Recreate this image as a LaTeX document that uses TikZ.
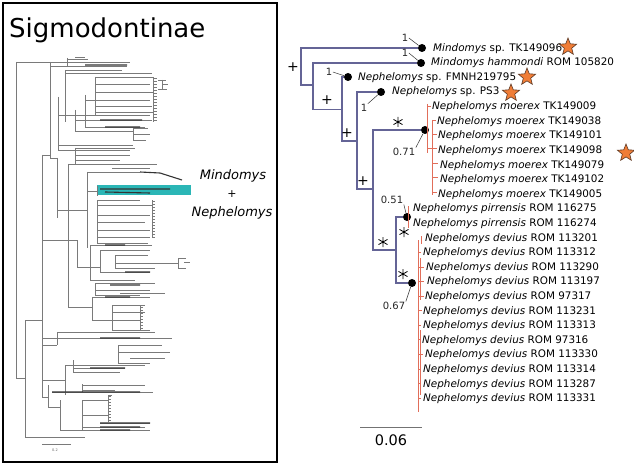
\documentclass[tikz,border=0pt]{standalone}
\usepackage{fontspec}
\setmainfont{DejaVu Sans}
\usetikzlibrary{shapes.geometric}
\definecolor{treeblue}{RGB}{100,100,150}
\definecolor{tipred}{RGB}{225,110,90}
\definecolor{starorange}{RGB}{240,125,55}
\definecolor{stardark}{RGB}{90,55,35}
\definecolor{tealhl}{RGB}{43,182,182}
\tikzset{
  lt/.style={draw=black!52, line width=0.4pt},
  ltd/.style={draw=black!80, line width=1.1pt},
  tb/.style={draw=treeblue, line width=1.1pt},
  tipline/.style={draw=tipred, line width=0.8pt},
  dot/.style={circle, fill=black, inner sep=0pt, minimum size=8pt},
  lab/.style={anchor=base west, inner sep=0pt, font=\fontsize{10.4}{12}\selectfont},
  supp/.style={inner sep=0.5pt, font=\fontsize{10}{12}\selectfont, text=black!85},
  leader/.style={draw=black!80, line width=0.5pt},
  plussign/.style={inner sep=0pt, font=\fontsize{14}{14}\selectfont},
  starmark/.style={star, star points=5, star point ratio=2.3, minimum size=18pt, inner sep=0pt, fill=starorange, draw=stardark, line width=0.6pt},
  astpic/.pic={\draw[line width=0.8pt] (0,-5)--(0,5) (-4.5,-2.6)--(4.5,2.6) (-4.5,2.6)--(4.5,-2.6);}
}
\begin{document}
\begin{tikzpicture}[x=1pt,y=-1pt]
\useasboundingbox (0,0) rectangle (634,465);
\fill[white] (0,0) rectangle (634,465);

% ---------------- left panel ----------------
\draw[line width=2pt] (3,3) rectangle (277,462);
\node[anchor=base west, inner sep=0pt, font=\fontsize{26}{26}\selectfont] (title) at (9,38) {Sigmodontinae};

\fill[tealhl] (97,185) rectangle (191,195);

% big tree (thumbnail)
\draw[lt]
 (16,62)--(16,378) (50,62)--(50,158) (67,58)--(67,66) (42,155)--(42,397)
 (25,320)--(25,437) (57,158)--(57,218) (65,70)--(65,122) (58,97)--(58,150)
 (68,164)--(68,307) (75,148)--(75,165) (87,172)--(87,248) (97,186)--(97,196)
 (97,200)--(97,243) (95,77)--(95,115) (85,95)--(85,127) (75,110)--(75,132)
 (133,128)--(133,140) (90,245)--(90,280) (77,240)--(77,267) (100,250)--(100,272)
 (115,255)--(115,268) (95,283)--(95,295) (92,297)--(92,320) (112,305)--(112,330)
 (57,332)--(57,345) (48,385)--(48,407) (65,365)--(65,395) (73,360)--(73,372)
 (82,384)--(82,392) (60,400)--(60,430) (82,400)--(82,430) (118,345)--(118,363)
 (108,395)--(108,422) (153,77)--(153,122) (152,200)--(152,238) (140,305)--(140,330)
 (16,62)--(130,62) (67,59)--(88,59) (75,57)--(85,57) (50,66)--(127,66)
 (65,70)--(122,70) (65,73)--(152,73) (95,77)--(153,77) (95,84)--(150,84)
 (95,92)--(153,92) (85,100)--(150,100) (95,106)--(152,106) (95,112)--(153,112)
 (58,115)--(150,115) (75,120)--(152,120) (85,127)--(145,127) (75,131)--(133,131)
 (133,128)--(148,128) (133,134)--(150,134) (133,140)--(146,140) (58,145)--(133,145)
 (75,148)--(135,148) (58,150)--(130,150) (75,155)--(130,155) (42,155)--(50,155)
 (50,158)--(57,158) (75,160)--(120,160) (68,164)--(157,164) (112,168)--(150,168)
 (87,172)--(140,172) (87,191)--(97,191) (97,200)--(140,200) (97,205)--(152,205)
 (57,210)--(87,210) (97,215)--(150,215) (97,222)--(145,222) (97,230)--(150,230)
 (97,237)--(150,237) (97,243)--(148,243) (42,240)--(77,240) (90,245)--(152,245)
 (100,250)--(150,250) (115,255)--(148,255) (115,263)--(178,263) (115,268)--(155,268)
 (100,272)--(150,272) (77,267)--(100,267) (90,280)--(135,280) (95,283)--(155,283)
 (95,290)--(150,290) (95,295)--(140,295) (120,293)--(165,293) (92,297)--(150,297)
 (68,307)--(92,307) (112,305)--(140,305) (112,312)--(145,312) (92,320)--(140,320)
 (112,330)--(150,330) (57,332)--(155,332) (42,338)--(172,338) (118,345)--(162,345)
 (118,352)--(170,352) (130,358)--(165,358) (118,363)--(150,363) (42,345)--(57,345)
 (65,365)--(145,365) (73,368)--(125,368) (73,372)--(120,372) (42,380)--(65,380)
 (82,385)--(145,385) (82,390)--(115,390) (52,392)--(153,392) (82,400)--(108,400)
 (48,407)--(60,407) (82,415)--(108,415) (100,423)--(150,423) (83,427)--(145,427)
 (60,430)--(150,430) (25,437)--(85,437) (16,378)--(25,378) (25,320)--(42,320)
 (42,397)--(48,397)
 (158,80)--(166,80) (162,80)--(162,89) (158,89)--(167,89) (163,84)--(168,84)
 (178,258)--(178,268) (178,258)--(186,258) (178,268)--(186,268) (184,262)--(190,262)
 (108,395)--(112,395) (140,305)--(145,305);
\foreach \yy in {78,81,...,121} \draw[lt] (153,\yy)--(157,\yy);
\foreach \yy in {201,204,...,237} \draw[lt] (152,\yy)--(155,\yy);
\foreach \yy in {307,310,...,329} \draw[lt] (140,\yy)--(143,\yy);
\foreach \yy in {396,399,...,421} \draw[lt] (108,\yy)--(111,\yy);
\draw[ltd] (85,65)--(127,65) (100,120)--(142,120) (105,127)--(140,127)
 (140,172)--(160,173)--(182,180) (100,189)--(170,189) (105,192)--(150,193)
 (105,245)--(125,245) (125,272)--(150,272) (100,338)--(140,338) (90,368)--(125,368)
 (52,392)--(140,392) (100,423)--(150,423) (100,427)--(140,427) (110,285)--(140,285)
 (100,430)--(130,430) (105,297)--(130,297);
% left scale bar
\draw[lt, line width=0.6pt] (42,444)--(71,444);
\node[inner sep=0pt, font=\fontsize{3.5}{4}\selectfont, text=black!60] (lscale) at (55,450) {0.2};

\node[inner sep=0pt, anchor=base, font=\fontsize{13}{15}\selectfont\itshape] (lmin) at (233,179) {Mindomys};
\node[inner sep=0pt, font=\fontsize{11}{12}\selectfont] (lplus) at (232,194) {+};
\node[inner sep=0pt, anchor=base, font=\fontsize{13}{15}\selectfont\itshape] (lneph) at (232,216) {Nephelomys};

% ---------------- right panel ----------------
\coordinate (r) at (301,66.5);
\coordinate (n1) at (313,85);
\coordinate (n2) at (342,109.5);
\coordinate (n3) at (357,141);
\coordinate (n4) at (373,189);
\coordinate (n5) at (396,250);
\node[dot] (d1) at (422,48) {};
\node[dot] (d2) at (421,63) {};
\node[dot] (d3) at (348,77) {};
\node[dot] (d4) at (381,92) {};
\node[dot] (d5) at (425,130) {};
\node[dot] (d6) at (407,217) {};
\node[dot] (d7) at (412,283) {};

\draw[tb] (r) |- (d1); \draw[tb] (r) |- (n1);
\draw[tb] (n1) |- (d2); \draw[tb] (n1) |- (n2);
\draw[tb] (n2) |- (d3); \draw[tb] (n2) |- (n3);
\draw[tb] (n3) |- (d4); \draw[tb] (n3) |- (n4);
\draw[tb] (n4) |- (d5); \draw[tb] (n4) |- (n5);
\draw[tb] (n5) |- (d6); \draw[tb] (n5) |- (d7);

% red tip branches
\draw[tipline] (427,104)--(427,153) (432,120)--(432,195)
  (427,106)--(431,106) (432,120)--(436,120) (432,134)--(437,134) (427,148)--(437,148)
  (432,163)--(438,163) (432,177)--(438,177) (432,192)--(437,192);
\draw[tipline] (408,206)--(408,228);
\draw[tipline] (418,240)--(418,412) (421,236)--(421,244) (420,258)--(420,300) (420,330)--(420,395)
  (418,252)--(421,252) (418,267)--(424,267) (418,281)--(424,281) (418,296)--(424,296)
  (418,310)--(422,310) (418,325)--(421,325) (418,339)--(421,339) (418,354)--(423,354)
  (418,369)--(421,369) (418,383)--(421,383) (418,398)--(421,398);

% tip labels
\node[lab] (t0) at (433,51.3) {\textit{Mindomys} sp. TK149096};
\node[lab] (t1) at (431,66) {\textit{Mindomys hammondi} ROM 105820};
\node[lab] (t2) at (358,80.5) {\textit{Nephelomys} sp. FMNH219795};
\node[lab] (t3) at (392,95) {\textit{Nephelomys} sp. PS3};
\node[lab] (t4) at (432,109.7) {\textit{Nephelomys moerex} TK149009};
\node[lab] (t5) at (437,124.3) {\textit{Nephelomys moerex} TK149038};
\node[lab] (t6) at (438,138.9) {\textit{Nephelomys moerex} TK149101};
\node[lab] (t7) at (438,153.5) {\textit{Nephelomys moerex} TK149098};
\node[lab] (t8) at (440,168.1) {\textit{Nephelomys moerex} TK149079};
\node[lab] (t9) at (440,182.7) {\textit{Nephelomys moerex} TK149102};
\node[lab] (t10) at (438,197.3) {\textit{Nephelomys moerex} TK149005};
\node[lab] (t11) at (413,211.9) {\textit{Nephelomys pirrensis} ROM 116275};
\node[lab] (t12) at (413,226.5) {\textit{Nephelomys pirrensis} ROM 116274};
\node[lab] (t13) at (425,241.1) {\textit{Nephelomys devius} ROM 113201};
\node[lab] (t14) at (423,255.7) {\textit{Nephelomys devius} ROM 113312};
\node[lab] (t15) at (426,270.3) {\textit{Nephelomys devius} ROM 113290};
\node[lab] (t16) at (427,284.9) {\textit{Nephelomys devius} ROM 113197};
\node[lab] (t17) at (425,299.5) {\textit{Nephelomys devius} ROM 97317};
\node[lab] (t18) at (423,314.1) {\textit{Nephelomys devius} ROM 113231};
\node[lab] (t19) at (423,328.7) {\textit{Nephelomys devius} ROM 113313};
\node[lab] (t20) at (422,343.3) {\textit{Nephelomys devius} ROM 97316};
\node[lab] (t21) at (425,357.9) {\textit{Nephelomys devius} ROM 113330};
\node[lab] (t22) at (423,372.5) {\textit{Nephelomys devius} ROM 113314};
\node[lab] (t23) at (423,387.1) {\textit{Nephelomys devius} ROM 113287};
\node[lab] (t24) at (423,401.7) {\textit{Nephelomys devius} ROM 113331};

% stars
\node[starmark] (s1) at (568,47) {};
\node[starmark] (s2) at (527,77) {};
\node[starmark] (s3) at (511,93) {};
\node[starmark] (s4) at (626,153) {};

% support values
\node[supp] (b1) at (405,38) {1};
\node[supp] (b2) at (405,53) {1};
\node[supp] (b3) at (329,72) {1};
\node[supp] (b4) at (364,108) {1};
\node[supp] (b5) at (404,152) {0.71};
\node[supp] (b6) at (392,200) {0.51};
\node[supp] (b7) at (394,306) {0.67};
\draw[leader] (b1.east) -- (d1);
\draw[leader] (b2.east) -- (d2);
\draw[leader] (b3.east) -- (d3);
\draw[leader] (b4.north east) -- (d4);
\draw[leader] (b5.north east) -- (d5);
\draw[leader] (b6.south east) -- (d6);
\draw[leader] (b7.north east) -- (d7);

\node[plussign] (p1) at (293,67) {+};
\node[plussign] (p2) at (327,100) {+};
\node[plussign] (p3) at (347,133) {+};
\node[plussign] (p4) at (363,181) {+};
\pic at (398,122) {astpic};
\pic at (383,242) {astpic};
\pic at (404,232) {astpic};
\pic at (403,274) {astpic};

% scale bar
\coordinate (sb1) at (360,427);
\coordinate (sb2) at (422,427);
\draw[draw=black!55, line width=1pt] (sb1) -- (sb2);
\node[inner sep=0pt, font=\fontsize{14.5}{16}\selectfont] (sblab) at (391,440) {0.06};
\end{tikzpicture}
\end{document}
